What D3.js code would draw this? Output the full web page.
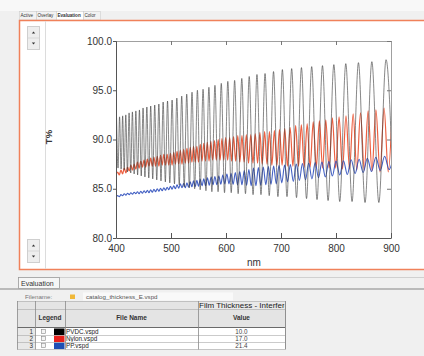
<!DOCTYPE html>
<html>
<head>
<meta charset="utf-8">
<script src="https://cdn.jsdelivr.net/npm/d3@7"></script>
<style>
  body { margin: 0; background: #f0f0f0; font-family: "Liberation Sans", Arial, sans-serif; }
  svg { display: block; }
</style>
</head>
<body>
<div id="app"></div>
<script>
const tabs = ["Active", "Overlay", "Evaluation", "Color"];
const xTicks = [400, 500, 600, 700, 800, 900];
const yTicks = [80, 85, 90, 95, 100];
const fileNames = ["PVDC.vspd", "Nylon.vspd", "PP.vspd"];
const thickness = [10.0, 17.0, 21.4];
const legendColors = ["#000000", "#e8201c", "#1f4fb4"];

// [nm, T%] turning points
const pvdc = [[401.0,92.2],[403.7,87.1],[406.5,92.3],[409.3,87.0],[412.1,92.4],[414.9,86.9],[417.8,92.5],[420.8,86.7],
  [423.8,92.7],[426.8,86.6],[429.8,92.8],[433.0,86.5],[436.1,92.9],[439.3,86.4],[442.6,93.0],[445.9,86.3],
  [449.2,93.2],[452.6,86.2],[456.1,93.3],[459.6,86.1],[463.1,93.4],[466.8,86.0],[470.4,93.5],[474.1,85.9],
  [477.9,93.6],[481.8,85.8],[485.7,93.8],[489.7,85.7],[493.7,93.9],[497.8,85.6],[502.0,94.0],[506.3,85.5],
  [510.6,94.2],[515.0,85.4],[519.5,94.4],[524.0,85.2],[528.6,94.6],[533.4,85.1],[538.2,94.8],[543.0,85.0],
  [548.0,95.0],[553.1,84.9],[558.3,95.1],[563.5,84.8],[568.9,95.3],[574.3,84.7],[579.9,95.5],[585.6,84.7],
  [591.4,95.7],[597.3,84.6],[603.3,95.9],[609.5,84.6],[615.7,96.0],[622.1,84.5],[628.7,96.2],[635.4,84.5],
  [642.2,96.4],[649.2,84.4],[656.3,96.6],[663.6,84.4],[671.0,96.7],[678.6,84.3],[686.4,96.9],[694.4,84.2],
  [702.5,97.1],[710.9,84.2],[719.4,97.2],[728.2,84.1],[737.2,97.3],[746.4,84.0],[755.8,97.4],[765.5,83.9],
  [775.4,97.5],[785.6,83.8],[796.1,97.6],[806.8,83.7],[817.8,97.7],[829.2,83.7],[840.8,97.8],[852.8,83.6],
  [865.2,97.9],[877.9,83.6],[891.0,98.1],[904.4,83.5]];

const nylon = [[400,86.3],[403,86.7],[406,86.4],[409,86.9],[412,86.5],[415,87.1],[418,86.6],[421,87.2],
  [424,86.8],[427,87.4],[430,86.9],[433,87.5],[436,87.0],[439,87.7],[442,87.1],[445,87.8],[448,87.2],
  [451,87.9],[454,87.2],[457,88.0],[460,87.3],[463,88.1],[466,87.3],[469,88.2],[472,87.3],[475,88.3],
  [478,87.3],[481,88.4],[484,87.4],[487,88.5],[490,87.4],[493,88.5],[496,87.4],[499,88.6],[502,87.4],
  [505,88.7],[508,87.5],[511,88.8],[514,87.5],[517,88.9],[520,87.5],[523,89.0],[526,87.6],[529,89.1],
  [532,87.6],[535,89.2],[538,87.7],[541,89.3],[544,87.7],[547,89.3],[550,87.7],[553.2,89.5],[556.4,87.8],
  [559.6,89.6],[562.8,87.8],[566,89.7],[569.2,87.8],[572.4,89.8],[575.6,87.9],[579,89.9],[582.4,87.9],
  [585.8,90.0],[589.2,87.9],[592.6,90.1],[596,87.9],[599.4,90.2],[603,87.9],[606.6,90.2],[610.2,87.8],
  [613.8,90.3],[617.6,87.8],[621.4,90.4],[625.2,87.7],[629,90.4],[633,87.7],[637,90.5],[641,87.6],
  [645,90.5],[649,87.6],[653.2,90.6],[657.4,87.6],[661.6,90.7],[665.8,87.5],[670.2,90.8],[674.6,87.5],
  [679,90.8],[683.4,87.4],[688,90.9],[692.6,87.4],[697.2,91.0],[702,87.4],[706.8,91.1],[711.6,87.3],
  [716.6,91.2],[721.6,87.3],[726.6,91.4],[731.8,87.3],[737,91.5],[742.2,87.2],[747.6,91.6],[753,87.2],
  [758.6,91.8],[764.2,87.2],[769.8,91.9],[775.6,87.1],[781.4,92.0],[787.4,87.1],[793.4,92.2],[799.4,87.1],
  [805.6,92.3],[811.8,87.0],[818.2,92.4],[824.6,87.0],[831.2,92.6],[837.8,86.9],[844.6,92.7],[851.4,86.9],
  [858.4,92.9],[865.4,86.8],[872.6,93.0],[880,86.7],[887.4,93.2],[895,86.7],[902.6,93.5]];

const pp = [[400,84.15],[403,84.3],[406,84.2],[409,84.4],[412,84.3],[415,84.5],[418,84.35],[421,84.55],
  [424,84.4],[427,84.6],[430,84.45],[433,84.65],[436,84.5],[439,84.7],[442,84.5],[445,84.75],[448,84.55],
  [451,84.8],[454,84.6],[457,84.85],[460,84.6],[463,84.9],[466,84.65],[469,84.95],[472,84.7],[475,85.0],
  [478,84.75],[481,85.05],[484,84.8],[487,85.1],[490,84.85],[493,85.15],[496,84.9],[499,85.25],[502,84.95],
  [505,85.3],[508,85.0],[511,85.4],[514,85.05],[517,85.5],[520,85.1],[523,85.55],[526,85.1],[529,85.6],
  [532,85.15],[535,85.7],[538,85.2],[541,85.8],[544,85.2],[547,85.85],[550,85.25],[553.2,85.95],[556.4,85.3],
  [559.6,86.0],[562.8,85.3],[566.2,86.1],[569.6,85.35],[573,86.2],[576.4,85.4],[579.8,86.25],[583.4,85.4],
  [587,86.3],[590.6,85.45],[594.2,86.4],[597.8,85.5],[601.6,86.5],[605.4,85.5],[609.2,86.55],[613,85.45],
  [617,86.65],[621,85.4],[625,86.75],[629,85.4],[633.2,86.85],[637.4,85.35],[641.6,86.95],[645.8,85.3],
  [650,87.1],[654.4,85.3],[658.8,87.15],[663.2,85.35],[667.8,87.2],[672.4,85.4],[677,87.25],[681.8,85.45],
  [686.6,87.3],[691.4,85.5],[696.4,87.35],[701.4,85.6],[706.6,87.4],[711.8,85.7],[717,87.45],[722.4,85.75],
  [727.8,87.5],[733.4,85.85],[739,87.55],[744.6,85.9],[750.4,87.6],[756.2,86.0],[762.2,87.65],[768.2,86.1],
  [774.4,87.7],[780.6,86.2],[787,87.75],[793.4,86.3],[800,87.8],[806.8,86.4],[813.6,87.85],[820.6,86.45],
  [827.6,87.95],[834.8,86.55],[842,88.0],[849.4,86.65],[857,88.1],[864.6,86.75],[872.4,88.2],[880.4,86.85],
  [888.4,88.3],[896.6,86.95],[904.8,88.4]];

const W = 424, H = 356;
const svg = d3.select("#app").append("svg").attr("width", W).attr("height", H);

svg.append("rect").attr("width", W).attr("height", 11).attr("fill", "#f8f8f8");

// tab strip
const tabX = [19, 36, 56, 83, 100];
const tabG = svg.append("g");
tabs.forEach((t, i) => {
  tabG.append("rect")
    .attr("x", tabX[i] + 0.5).attr("y", 11.5)
    .attr("width", tabX[i + 1] - tabX[i]).attr("height", 8.5)
    .attr("fill", t === "Evaluation" ? "#ffffff" : "#f2f2f2")
    .attr("stroke", "#c8c8c8").attr("stroke-width", 0.5);
  tabG.append("text")
    .attr("x", tabX[i] + 1.5).attr("y", 17.3)
    .attr("font-size", 4.6)
    .attr("font-weight", t === "Evaluation" ? "bold" : "normal")
    .attr("fill", "#333")
    .text(t);
});

// orange frame around the graph pane
svg.append("rect")
  .attr("x", 19.5).attr("y", 20.5).attr("width", 420).attr("height", 249)
  .attr("fill", "#ffffff").attr("stroke", "#f0815a").attr("stroke-width", 1.5);
svg.append("line").attr("x1", 45.5).attr("x2", 45.5).attr("y1", 21).attr("y2", 269)
  .attr("stroke", "#dcdcdc");

function spinButton(y0) {
  const g = svg.append("g");
  g.append("rect").attr("x", 27.5).attr("y", y0 + 0.5).attr("width", 12).attr("height", 23)
    .attr("fill", "#eeeeee").attr("stroke", "#cfcfcf");
  g.append("line").attr("x1", 28).attr("x2", 39).attr("y1", y0 + 12).attr("y2", y0 + 12).attr("stroke", "#d8d8d8");
  g.append("path").attr("d", `M31.8,${y0 + 7.5}L35.2,${y0 + 7.5}L33.5,${y0 + 5.5}Z`).attr("fill", "#333");
  g.append("path").attr("d", `M31.8,${y0 + 16.5}L35.2,${y0 + 16.5}L33.5,${y0 + 18.5}Z`).attr("fill", "#333");
}
spinButton(26);
spinButton(239);

// chart
const plot = { left: 116, right: 391, top: 41, bottom: 238 };
const x = d3.scaleLinear().domain([400, 900]).range([plot.left, plot.right]);
const y = d3.scaleLinear().domain([80, 100]).range([plot.bottom, plot.top]);

svg.append("clipPath").attr("id", "clip").append("rect")
  .attr("x", plot.left).attr("y", plot.top)
  .attr("width", plot.right - plot.left).attr("height", plot.bottom - plot.top);

const line = d3.line().x(d => x(d[0])).y(d => y(d[1])).curve(d3.curveMonotoneX);
const lines = svg.append("g").attr("clip-path", "url(#clip)");
lines.append("path").datum(nylon).attr("d", line)
  .attr("fill", "none").attr("stroke", "#ea4420").attr("stroke-width", 1.2).attr("stroke-opacity", 0.85);
lines.append("path").datum(pp).attr("d", line)
  .attr("fill", "none").attr("stroke", "#2f4fbc").attr("stroke-width", 1.1).attr("stroke-opacity", 0.9);
lines.append("path").datum(pvdc).attr("d", line)
  .attr("fill", "none").attr("stroke", "#404040").attr("stroke-width", 0.9).attr("stroke-opacity", 0.7);

// frame + ticks
const axisFont = g => g.selectAll("text").attr("font-size", 10).attr("fill", "#333")
  .attr("font-family", "'Liberation Sans', Arial, sans-serif");

svg.append("g").attr("transform", `translate(0,${plot.top})`)
  .call(d3.axisTop(x).tickValues(xTicks).tickSize(-4).tickSizeOuter(0).tickFormat(""))
  .call(g => g.select(".domain").attr("stroke", "#a0a0a0"))
  .call(g => g.selectAll(".tick line").attr("stroke", "#777"));
svg.append("g").attr("transform", `translate(${plot.right},0)`)
  .call(d3.axisRight(y).tickValues(yTicks).tickSize(-4).tickSizeOuter(0).tickFormat(""))
  .call(g => g.select(".domain").attr("stroke", "#a0a0a0"))
  .call(g => g.selectAll(".tick line").attr("stroke", "#777"));
svg.append("g").attr("transform", `translate(0,${plot.bottom})`)
  .call(d3.axisBottom(x).tickValues(xTicks).tickSize(-5).tickSizeOuter(0).tickPadding(7).tickFormat(d3.format("d")))
  .call(g => g.select(".domain").attr("stroke", "#555"))
  .call(g => g.selectAll(".tick line").attr("stroke", "#555"))
  .call(axisFont);
svg.append("g").attr("transform", `translate(${plot.left},0)`)
  .call(d3.axisLeft(y).tickValues(yTicks).tickSize(3).tickSizeOuter(0).tickPadding(1).tickFormat(d3.format(".1f")))
  .call(g => g.select(".domain").attr("stroke", "#555"))
  .call(g => g.selectAll(".tick line").attr("stroke", "#555"))
  .call(axisFont);

svg.append("text").attr("x", 254).attr("y", 266).attr("text-anchor", "middle")
  .attr("font-size", 10).attr("fill", "#333").text("nm");
svg.append("text").attr("transform", "translate(52,137) rotate(-90)").attr("text-anchor", "middle")
  .attr("font-size", 9.5).attr("font-weight", "bold").attr("fill", "#333").text("T%");

// lower evaluation pane
svg.append("line").attr("x1", 60).attr("x2", W).attr("y1", 277.5).attr("y2", 277.5).attr("stroke", "#d0d0d0");
svg.append("rect").attr("x", 18.5).attr("y", 277.5).attr("width", 41).attr("height", 11)
  .attr("fill", "#f6f6f6").attr("stroke", "#9a9a9a").attr("stroke-width", 0.8);
svg.append("text").attr("x", 21).attr("y", 286).attr("font-size", 7).attr("fill", "#333").text("Evaluation");
svg.append("line").attr("x1", 0).attr("x2", W).attr("y1", 289).attr("y2", 289).attr("stroke", "#a8a8a8").attr("stroke-width", 1.5);

svg.append("text").attr("x", 25).attr("y", 299).attr("font-size", 6.2).attr("fill", "#777").text("Filename:");
svg.append("rect").attr("x", 70).attr("y", 294.5).attr("width", 5).attr("height", 4.5).attr("fill", "#f0b838");
svg.append("rect").attr("x", 83).attr("y", 292.5).attr("width", 150).attr("height", 8).attr("fill", "#f9f9f9");
svg.append("text").attr("x", 86).attr("y", 299).attr("font-size", 6.2).attr("fill", "#555").text("catalog_thickness_E.vspd");

const cols = [17, 35, 65, 198, 285];
const tbl = svg.append("g");
// header rows
tbl.append("rect").attr("x", cols[0]).attr("y", 301).attr("width", cols[4] - cols[0]).attr("height", 26)
  .attr("fill", "#e4e4e4");
tbl.append("rect").attr("x", cols[3]).attr("y", 301).attr("width", cols[4] - cols[3]).attr("height", 8)
  .attr("fill", "#e9e9e9");
tbl.append("clipPath").attr("id", "hclip").append("rect")
  .attr("x", cols[3]).attr("y", 300).attr("width", cols[4] - cols[3] - 0.5).attr("height", 10);
tbl.append("text").attr("x", cols[3] + 1).attr("y", 307.8).attr("font-size", 8).attr("fill", "#222")
  .attr("clip-path", "url(#hclip)").text("Film Thickness - Interference");
const headers = ["", "Legend", "File Name", "Value"];
tbl.selectAll("text.hdr").data(headers).join("text").attr("class", "hdr")
  .attr("x", (d, i) => (cols[i] + cols[i + 1]) / 2).attr("y", 320)
  .attr("text-anchor", "middle").attr("font-size", 6.5).attr("font-weight", "bold").attr("fill", "#333")
  .text(d => d);

const rowY = i => 328 + i * 7;
const rows = tbl.selectAll("g.row").data(fileNames).join("g").attr("class", "row");
rows.append("rect").attr("x", cols[0]).attr("y", (d, i) => rowY(i)).attr("width", cols[1] - cols[0]).attr("height", 7)
  .attr("fill", "#e8e8e8");
rows.append("rect").attr("x", cols[1]).attr("y", (d, i) => rowY(i)).attr("width", cols[4] - cols[1]).attr("height", 7)
  .attr("fill", "#ffffff");
rows.append("text").attr("x", cols[1] - 2).attr("y", (d, i) => rowY(i) + 5.8).attr("text-anchor", "end")
  .attr("font-size", 6.3).attr("fill", "#333").text((d, i) => i + 1);
rows.append("rect").attr("x", 41.5).attr("y", (d, i) => rowY(i) + 1.5).attr("width", 4).attr("height", 4)
  .attr("fill", "#f4f4f4").attr("stroke", "#888").attr("stroke-width", 0.6);
rows.append("rect").attr("x", 54).attr("y", (d, i) => rowY(i) + 0.5).attr("width", 10.5).attr("height", 6.5)
  .attr("fill", (d, i) => legendColors[i]);
rows.append("text").attr("x", cols[2] + 1).attr("y", (d, i) => rowY(i) + 5.8)
  .attr("font-size", 6.3).attr("fill", "#222").text(d => d);
rows.append("text").attr("x", (cols[3] + cols[4]) / 2).attr("y", (d, i) => rowY(i) + 5.8).attr("text-anchor", "middle")
  .attr("font-size", 6.3).attr("fill", "#444").text((d, i) => d3.format(".1f")(thickness[i]));

// grid lines
const gridY = [301, 309, 327, 335, 342, 349];
tbl.selectAll("line.h").data(gridY).join("line").attr("class", "h")
  .attr("x1", cols[0]).attr("x2", cols[4]).attr("y1", d => d + 0.5).attr("y2", d => d + 0.5)
  .attr("stroke", (d, i) => i === 2 ? "#6a6a6a" : "#a8a8a8").attr("stroke-width", (d, i) => i === 2 ? 1.2 : 0.6);
tbl.selectAll("line.v").data(cols).join("line").attr("class", "v")
  .attr("x1", d => d + 0.5).attr("x2", d => d + 0.5)
  .attr("y1", 301).attr("y2", 349.5)
  .attr("stroke", (d, i) => i === 4 ? "#777" : "#8a8a8a").attr("stroke-width", 0.8);
</script>
</body>
</html>
